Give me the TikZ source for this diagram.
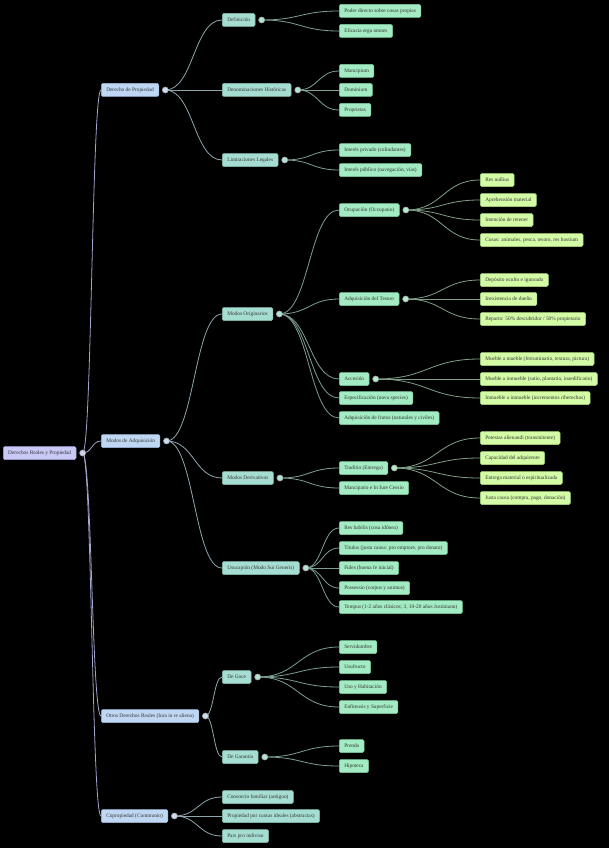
\documentclass[tikz,border=0pt]{standalone}
\usepackage{fontspec}
\setmainfont{Liberation Serif}
\usetikzlibrary{positioning,calc,backgrounds}
\definecolor{rootfill}{HTML}{C9C9F7}
\definecolor{rootdraw}{HTML}{A2A2DA}
\definecolor{bluefill}{HTML}{BFD7F2}
\definecolor{bluedraw}{HTML}{9AB6DA}
\definecolor{tealfill}{HTML}{A6DDD2}
\definecolor{tealdraw}{HTML}{82BDB1}
\definecolor{mintfill}{HTML}{A3EBC3}
\definecolor{mintdraw}{HTML}{7CC99C}
\definecolor{limefill}{HTML}{D4FBA6}
\definecolor{limedraw}{HTML}{AAD67E}
\definecolor{txt}{HTML}{333333}
\definecolor{edgeA}{HTML}{A3A6CE}
\definecolor{edgeB}{HTML}{8FA6AE}
\definecolor{edgeC}{HTML}{7D9F93}
\definecolor{edgeD}{HTML}{7F9F87}
\tikzset{
  box/.style={draw,rounded corners=1.5pt,minimum height=13pt,inner xsep=5pt,
              inner ysep=0pt,anchor=west,font=\fontsize{5.35}{6}\selectfont,
              text=txt,line width=0.5pt},
  lvroot/.style={box,fill=rootfill,draw=rootdraw},
  lvone/.style={box,fill=bluefill,draw=bluedraw},
  lvtwo/.style={box,fill=tealfill,draw=tealdraw},
  lvthree/.style={box,fill=mintfill,draw=mintdraw},
  lvfour/.style={box,fill=limefill,draw=limedraw},
  % circle markers
  dot/.style={circle,inner sep=0pt,minimum size=6pt,line width=0.6pt},
  dotroot/.style={dot,fill=rootfill!85!white,draw=gray!70},
  dotone/.style={dot,fill=bluefill!85!white,draw=gray!70},
  dottwo/.style={dot,fill=tealfill!85!white,draw=gray!70},
  dotthree/.style={dot,fill=mintfill!85!white,draw=gray!70},
  % connectors
  edgeroot/.style={line width=0.8pt,draw=edgeA},
  edgeone/.style={line width=0.8pt,draw=edgeB},
  edgetwo/.style={line width=0.8pt,draw=edgeC},
  edgethree/.style={line width=0.8pt,draw=edgeD},
}
\newcommand{\branch}[3]{%
  \draw[#1] let \p1=(#2.center), \p2=(#3.west) in
    (\p1) .. controls ({(\x1+\x2)/2},\y1) and ({(\x1+\x2)/2},\y2) .. (\p2);}

\begin{document}
\begin{tikzpicture}[x=1pt,y=-1pt]
\begin{scope}[on background layer]
\fill[black] (0,0) rectangle (609,848);
\end{scope}
\useasboundingbox (0,0) rectangle (609,848);

% root
\node[lvroot] (root) at (3,453) {Derechos Reales y Propiedad};
\node[dotroot,right=3pt of root] (rootc) {};

% level one
\node[lvone] (prop) at (101,90) {Derecho de Propiedad};
\node[lvone] (adq) at (101,441) {Modos de Adquisición};
\node[lvone] (otros) at (101,716) {Otros Derechos Reales (Iura in re aliena)};
\node[lvone] (copro) at (101,816) {Copropiedad (Communio)};
\node[dotone,right=3pt of prop] (propc) {};
\node[dotone,right=3pt of adq] (adqc) {};
\node[dotone,right=3pt of otros] (otrosc) {};
\node[dotone,right=3pt of copro] (coproc) {};

% level two
\node[lvtwo] (def) at (222,20) {Definición};
\node[lvtwo] (denom) at (222,90) {Denominaciones Históricas};
\node[lvtwo] (limit) at (222,160) {Limitaciones Legales};
\node[lvtwo] (orig) at (222,314) {Modos Originarios};
\node[lvtwo] (deriv) at (222,478) {Modos Derivativos};
\node[lvtwo] (usu) at (222,568) {Usucapión (Modo Sui Generis)};
\node[lvtwo] (goce) at (222,677) {De Goce};
\node[lvtwo] (gar) at (222,757) {De Garantía};
\node[lvtwo] (consor) at (222,797) {Consorcio familiar (antiguo)};
\node[lvtwo] (cuotas) at (222,816) {Propiedad por cuotas ideales (abstractas)};
\node[lvtwo] (pars) at (222,836) {Pars pro indiviso};
\node[dottwo,right=3pt of def] (defc) {};
\node[dottwo,right=3pt of denom] (denomc) {};
\node[dottwo,right=3pt of limit] (limitc) {};
\node[dottwo,right=3pt of orig] (origc) {};
\node[dottwo,right=3pt of deriv] (derivc) {};
\node[dottwo,right=3pt of usu] (usuc) {};
\node[dottwo,right=3pt of goce] (gocec) {};
\node[dottwo,right=3pt of gar] (garc) {};

% level three
\node[lvthree] (poder) at (339,11) {Poder directo sobre cosas propias};
\node[lvthree] (erga) at (339,31) {Eficacia erga omnes};
\node[lvthree] (mancip) at (339,71) {Mancipium};
\node[lvthree] (domin) at (339,90) {Dominium};
\node[lvthree] (propr) at (339,110) {Proprietas};
\node[lvthree] (privado) at (339,150) {Interés privado (colindantes)};
\node[lvthree] (publico) at (339,170) {Interés público (navegación, vías)};
\node[lvthree] (ocup) at (339,210) {Ocupación (Occupatio)};
\node[lvthree] (tesoro) at (339,299) {Adquisición del Tesoro};
\node[lvthree] (acces) at (339,379) {Accesión};
\node[lvthree] (espec) at (339,398) {Especificación (nova species)};
\node[lvthree] (frutos) at (339,418) {Adquisición de frutos (naturales y civiles)};
\node[lvthree] (trad) at (339,468) {Traditio (Entrega)};
\node[lvthree] (cessio) at (339,488) {Mancipatio e In Iure Cessio};
\node[lvthree] (habilis) at (339,528) {Res habilis (cosa idónea)};
\node[lvthree] (titulus) at (339,548) {Titulus (justa causa: pro emptore, pro donato)};
\node[lvthree] (fides) at (339,568) {Fides (buena fe inicial)};
\node[lvthree] (posses) at (339,588) {Possessio (corpus y animus)};
\node[lvthree] (tempus) at (339,607) {Tempus (1-2 años clásicos; 3, 10-20 años Justiniano)};
\node[lvthree] (servid) at (339,647) {Servidumbre};
\node[lvthree] (usufr) at (339,667) {Usufructo};
\node[lvthree] (habit) at (339,687) {Uso y Habitación};
\node[lvthree] (enfit) at (339,707) {Enfiteusis y Superficie};
\node[lvthree] (prenda) at (339,746) {Prenda};
\node[lvthree] (hipot) at (339,766) {Hipoteca};
\node[dotthree,right=3pt of ocup] (ocupc) {};
\node[dotthree,right=3pt of tesoro] (tesoroc) {};
\node[dotthree,right=3pt of acces] (accesc) {};
\node[dotthree,right=3pt of trad] (tradc) {};

% level four
\node[lvfour] (nullius) at (480,180) {Res nullius};
\node[lvfour] (aprehen) at (480,200) {Aprehensión material};
\node[lvfour] (retener) at (480,220) {Intención de retener};
\node[lvfour] (cosas) at (480,240) {Cosas: animales, pesca, tesoro, res hostium};
\node[lvfour] (deposito) at (480,280) {Depósito oculto e ignorado};
\node[lvfour] (inexist) at (480,299) {Inexistencia de dueño};
\node[lvfour] (reparto) at (480,319) {Reparto: 50\% descubridor / 50\% propietario};
\node[lvfour] (mm) at (480,359) {Mueble a mueble (ferruminatio, textura, pictura)};
\node[lvfour] (mi) at (480,379) {Mueble a inmueble (satio, plantatio, inaedificatio)};
\node[lvfour] (ii) at (480,398) {Inmueble a inmueble (incrementos riberechos)};
\node[lvfour] (potestas) at (480,438) {Potestas alienandi (transmitente)};
\node[lvfour] (capac) at (480,458) {Capacidad del adquirente};
\node[lvfour] (entrega) at (480,478) {Entrega material o espiritualizada};
\node[lvfour] (justa) at (480,498) {Justa causa (compra, pago, donación)};

\begin{scope}[on background layer]
\foreach \a/\b in {rootc/prop,rootc/adq,rootc/otros,rootc/copro}
  {\branch{edgeroot}{\a}{\b}}
\foreach \a/\b in {propc/def,propc/denom,propc/limit,adqc/orig,adqc/deriv,
  adqc/usu,otrosc/goce,otrosc/gar,coproc/consor,coproc/cuotas,coproc/pars}
  {\branch{edgeone}{\a}{\b}}
\foreach \a/\b in {defc/poder,defc/erga,denomc/mancip,denomc/domin,denomc/propr,
  limitc/privado,limitc/publico,origc/ocup,origc/tesoro,origc/acces,origc/espec,
  origc/frutos,derivc/trad,derivc/cessio,usuc/habilis,usuc/titulus,usuc/fides,
  usuc/posses,usuc/tempus,gocec/servid,gocec/usufr,gocec/habit,gocec/enfit,
  garc/prenda,garc/hipot}
  {\branch{edgetwo}{\a}{\b}}
\foreach \a/\b in {ocupc/nullius,ocupc/aprehen,ocupc/retener,ocupc/cosas,
  tesoroc/deposito,tesoroc/inexist,tesoroc/reparto,accesc/mm,accesc/mi,accesc/ii,
  tradc/potestas,tradc/capac,tradc/entrega,tradc/justa}
  {\branch{edgethree}{\a}{\b}}
\end{scope}
\end{tikzpicture}
\end{document}
